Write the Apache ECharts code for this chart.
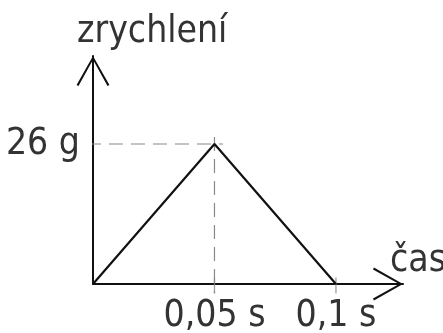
<!DOCTYPE html>
<html>
<head>
<meta charset="utf-8">
<script src="https://cdn.jsdelivr.net/npm/echarts@6/dist/echarts.min.js"></script>
<style>
  html, body { margin: 0; padding: 0; background: #fff; }
  #chart { width: 443px; height: 333px; }
</style>
</head>
<body>
<div id="chart"></div>
<script>
var yName = 'zrychlení';
var xName = 'čas';
var pulseTime = [0, 0.05, 0.1];
var pulseAcc = [0, 26, 0];
var xTicks = [0.05, 0.1];
var xTickLabels = ['0,05 s', '0,1 s'];
var yTicks = [26];
var yTickLabels = ['26 g'];

var font = "'DejaVu Sans Condensed', 'DejaVu Sans', sans-serif";
var fontSize = 37;
var textColor = '#333';
var lineColor = '#111';
var dashColor = '#888';
// open V arrow head, drawn as a thin filled chevron pointing up
var arrowPath = 'path://M0,30 L17,0 L34,30 L32,31 L17,4 L2,31 Z';

var chart = echarts.init(document.getElementById('chart'));

var pulse = pulseTime.map(function (t, i) { return [t, pulseAcc[i]]; });
var peak = pulse[1];

function labelFor (values, labels) {
  return function (v) {
    for (var i = 0; i < values.length; i++) {
      if (Math.abs(values[i] - v) < 1e-9) return labels[i];
    }
    return '';
  };
}

chart.setOption({
  animation: false,
  title: {
    text: yName,
    left: 72,
    top: 9,
    textStyle: { fontFamily: font, fontSize: fontSize, fontWeight: 200, color: textColor }
  },
  grid: { left: 93, right: 40, top: 56, bottom: 49, outerBoundsMode: 'none', containLabel: false },
  xAxis: {
    type: 'value',
    min: 0,
    max: 0.1276,
    name: xName,
    nameLocation: 'end',
    nameGap: -13,
    nameTextStyle: {
      fontFamily: font, fontSize: fontSize, fontWeight: 200, color: textColor,
      align: 'left', verticalAlign: 'bottom', padding: [0, 0, 4, 0]
    },
    axisLine: {
      show: true,
      symbol: ['none', arrowPath],
      symbolSize: [34, 30],
      symbolOffset: [0, -15],
      lineStyle: { color: lineColor, width: 2 }
    },
    axisTick: { show: false },
    splitLine: { show: false },
    axisLabel: {
      customValues: xTicks,
      formatter: labelFor(xTicks, xTickLabels),
      fontFamily: font, fontSize: fontSize, fontWeight: 200, color: textColor, margin: 14
    }
  },
  yAxis: {
    type: 'value',
    min: 0,
    max: 42.34,
    axisLine: {
      show: true,
      symbol: ['none', arrowPath],
      symbolSize: [34, 30],
      symbolOffset: [0, -15],
      lineStyle: { color: lineColor, width: 2 }
    },
    axisTick: { show: false },
    splitLine: { show: false },
    axisLabel: {
      customValues: yTicks,
      formatter: labelFor(yTicks, yTickLabels),
      fontFamily: font, fontSize: fontSize, fontWeight: 200, color: textColor, margin: 13
    }
  },
  series: [
    {
      type: 'line',
      data: [[-0.0025, peak[1]], [peak[0] + 0.0035, peak[1]]],
      clip: false,
      symbol: 'none',
      silent: true,
      lineStyle: { color: dashColor, width: 1.2, type: [14, 8] }
    },
    {
      type: 'line',
      data: [[peak[0], peak[1] + 1.3], [peak[0], -1.67]],
      clip: false,
      symbol: 'none',
      silent: true,
      lineStyle: { color: dashColor, width: 1.2, type: [14, 8] }
    },
    {
      type: 'scatter',
      data: xTicks.map(function (t) { return [t, -0.3]; }),
      clip: false,
      symbol: 'rect',
      symbolSize: [1.3, 16],
      silent: true,
      itemStyle: { color: dashColor }
    },
    {
      type: 'line',
      data: pulse,
      clip: false,
      symbol: 'none',
      silent: true,
      z: 5,
      lineStyle: { color: lineColor, width: 2.2 }
    }
  ]
});
</script>
</body>
</html>
